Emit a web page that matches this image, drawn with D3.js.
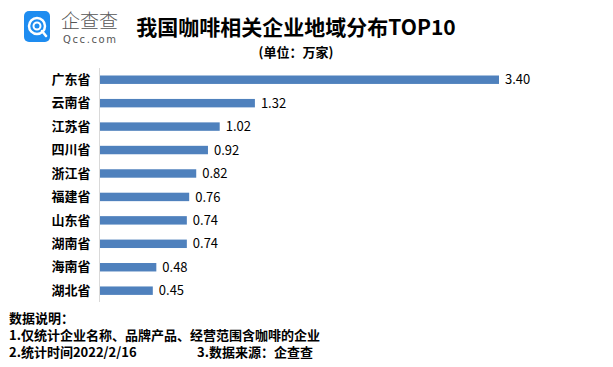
<!DOCTYPE html>
<html><head><meta charset="utf-8">
<script src="https://cdn.jsdelivr.net/npm/d3@7"></script>
<style>body{margin:0;background:#fff}svg{display:block}</style>
</head><body>
<script>
const categories = ["广东省","云南省","江苏省","四川省","浙江省","福建省","山东省","湖南省","海南省","湖北省"];
const values = [3.40,1.32,1.02,0.92,0.82,0.76,0.74,0.74,0.48,0.45];
const title = "我国咖啡相关企业地域分布TOP10";
const subtitle = "(单位：万家)";
const notes = ["数据说明：","1.仅统计企业名称、品牌产品、经营范围含咖啡的企业","2.统计时间2022/2/16","3.数据来源：企查查"];

const W=613,H=367;
const svg=d3.select("body").append("svg").attr("width",W).attr("height",H);
const font="'Noto Sans CJK SC','Microsoft YaHei',sans-serif";

// logo
const logo=svg.append("g");
logo.append("rect").attr("x",24).attr("y",11).attr("width",26).attr("height",31).attr("rx",5).attr("fill","#1E8CF0");
logo.append("circle").attr("cx",37).attr("cy",26).attr("r",8).attr("fill","none").attr("stroke","#fff").attr("stroke-width",2.5);
logo.append("circle").attr("cx",37).attr("cy",26).attr("r",3.5).attr("fill","none").attr("stroke","#fff").attr("stroke-width",2);
logo.append("line").attr("x1",42).attr("y1",31).attr("x2",46).attr("y2",36).attr("stroke","#fff").attr("stroke-width",2.5).attr("stroke-linecap","round");
logo.append("text").attr("x",61).attr("y",28).attr("font-family",font).attr("font-weight",300).attr("font-size",19).attr("fill","#555").text("企查查");
logo.append("text").attr("x",63).attr("y",43).attr("font-family","'DejaVu Sans',sans-serif").attr("font-size",10).attr("letter-spacing",1.6).attr("fill","#555").text("Qcc.com");

svg.append("text").attr("x",296).attr("y",35).attr("text-anchor","middle").attr("font-family",font).attr("font-weight","bold").attr("font-size",21).attr("fill","#000").text(title);
svg.append("text").attr("x",296).attr("y",57).attr("text-anchor","middle").attr("font-family",font).attr("font-weight","bold").attr("font-size",13).attr("fill","#000").text(subtitle);

const x=d3.scaleLinear().domain([0,3.40]).range([100,499]);
const y=d3.scaleBand().domain(categories).range([68,302.4]).paddingInner(0.64).paddingOuter(0.32);

svg.append("line").attr("x1",99.5).attr("x2",99.5).attr("y1",68).attr("y2",302).attr("stroke","#d9d9d9").attr("stroke-width",1);

svg.selectAll("rect.bar").data(categories).enter().append("rect").attr("class","bar")
  .attr("x",x(0)).attr("y",d=>y(d)).attr("height",y.bandwidth())
  .attr("width",(d,i)=>x(values[i])-x(0)).attr("fill","#4F81BD");

svg.selectAll("text.val").data(categories).enter().append("text").attr("class","val")
  .attr("x",(d,i)=>x(values[i])+6).attr("y",d=>y(d)+y.bandwidth()/2).attr("dy","0.36em")
  .attr("font-family",font).attr("font-size",13).attr("fill","#000")
  .text((d,i)=>values[i].toFixed(2));

const yAxis=d3.axisLeft(y).tickSize(0).tickPadding(9);
const ga=svg.append("g").attr("transform","translate(99.5,0)").call(yAxis);
ga.select(".domain").remove();
ga.selectAll("text").attr("font-family",font).attr("font-weight","bold").attr("font-size",13).attr("fill","#000");

const ft=svg.append("g").attr("font-family",font).attr("font-weight","bold").attr("font-size",13).attr("fill","#000");
ft.append("text").attr("x",9).attr("y",323).text(notes[0]);
ft.append("text").attr("x",9).attr("y",340).text(notes[1]);
ft.append("text").attr("x",9).attr("y",357).text(notes[2]);
ft.append("text").attr("x",197).attr("y",357).text(notes[3]);
</script>
</body></html>
